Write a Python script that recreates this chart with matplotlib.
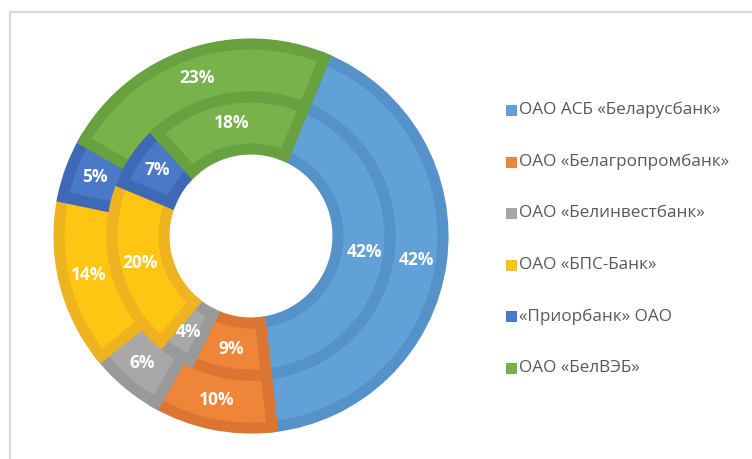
import matplotlib
matplotlib.use("Agg")
import matplotlib.pyplot as plt
from matplotlib.patches import Rectangle

banks = ["ОАО АСБ «Беларусбанк»", "ОАО «Белагропромбанк»", "ОАО «Белинвестбанк»",
         "ОАО «БПС-Банк»", "«Приорбанк» ОАО", "ОАО «БелВЭБ»"]
outer_values = [42, 10, 6, 14, 5, 23]
inner_values = [42, 9, 4, 20, 7, 18]

fill_colors = ["#62A0D8", "#EE8538", "#A8A8A8", "#FFC512", "#4A79C7", "#77B24B"]
edge_colors = ["#5692CA", "#DB7632", "#999999", "#EDB41F", "#3F68B6", "#68A240"]

W, H = 752, 459
fig = plt.figure(figsize=(W / 100, H / 100), dpi=100)
ax = fig.add_axes([0, 0, 1, 1])

cx, cy = 251, H - 236
r_out, r_mid, r_in = 192, 139, 87
start = 90 - 22.5

def ring(values, radius, width, pctdist):
    wedges, _, autotexts = ax.pie(
        values, radius=radius, center=(cx, cy), startangle=start, counterclock=False,
        colors=fill_colors, autopct=lambda p: f"{p:.0f}%", pctdistance=pctdist,
        wedgeprops=dict(width=width, linewidth=8), textprops=dict(color="white"))
    for w, ec in zip(wedges, edge_colors):
        w.set_edgecolor(ec)
        w.set_clip_path(w)
    for t in autotexts:
        t.set_fontsize(12.5)
        t.set_fontweight("bold")
        t.set_family(["Open Sans", "DejaVu Sans"])
        t.set_zorder(10)
    return wedges

ring(outer_values, r_out, r_out - r_mid, (r_out + r_mid) / 2 / r_out + 0.01)
ring(inner_values, r_mid, r_mid - r_in, (r_mid + r_in) / 2 / r_mid + 0.01)

# legend
leg_x = 506
leg_y0 = 110
leg_dy = 51.6
for i, (name, col) in enumerate(zip(banks, fill_colors)):
    y = H - (leg_y0 + i * leg_dy)
    ax.add_patch(Rectangle((leg_x, y - 5), 10, 10, facecolor=col, edgecolor=edge_colors[i], linewidth=0.6))
    ax.text(leg_x + 13, y, name, va="center", ha="left", fontsize=12.3, color="#595959",
            family=["Open Sans", "DejaVu Sans"])

# chart border (top and left visible)
ax.plot([9.5, 9.5, W], [0, H - 11.5, H - 11.5], color="#d9d9d9", linewidth=1.6, zorder=1)

ax.set_xlim(0, W)
ax.set_ylim(0, H)
ax.set_aspect("equal")
ax.axis("off")

fig.savefig("out.png", dpi=100)
